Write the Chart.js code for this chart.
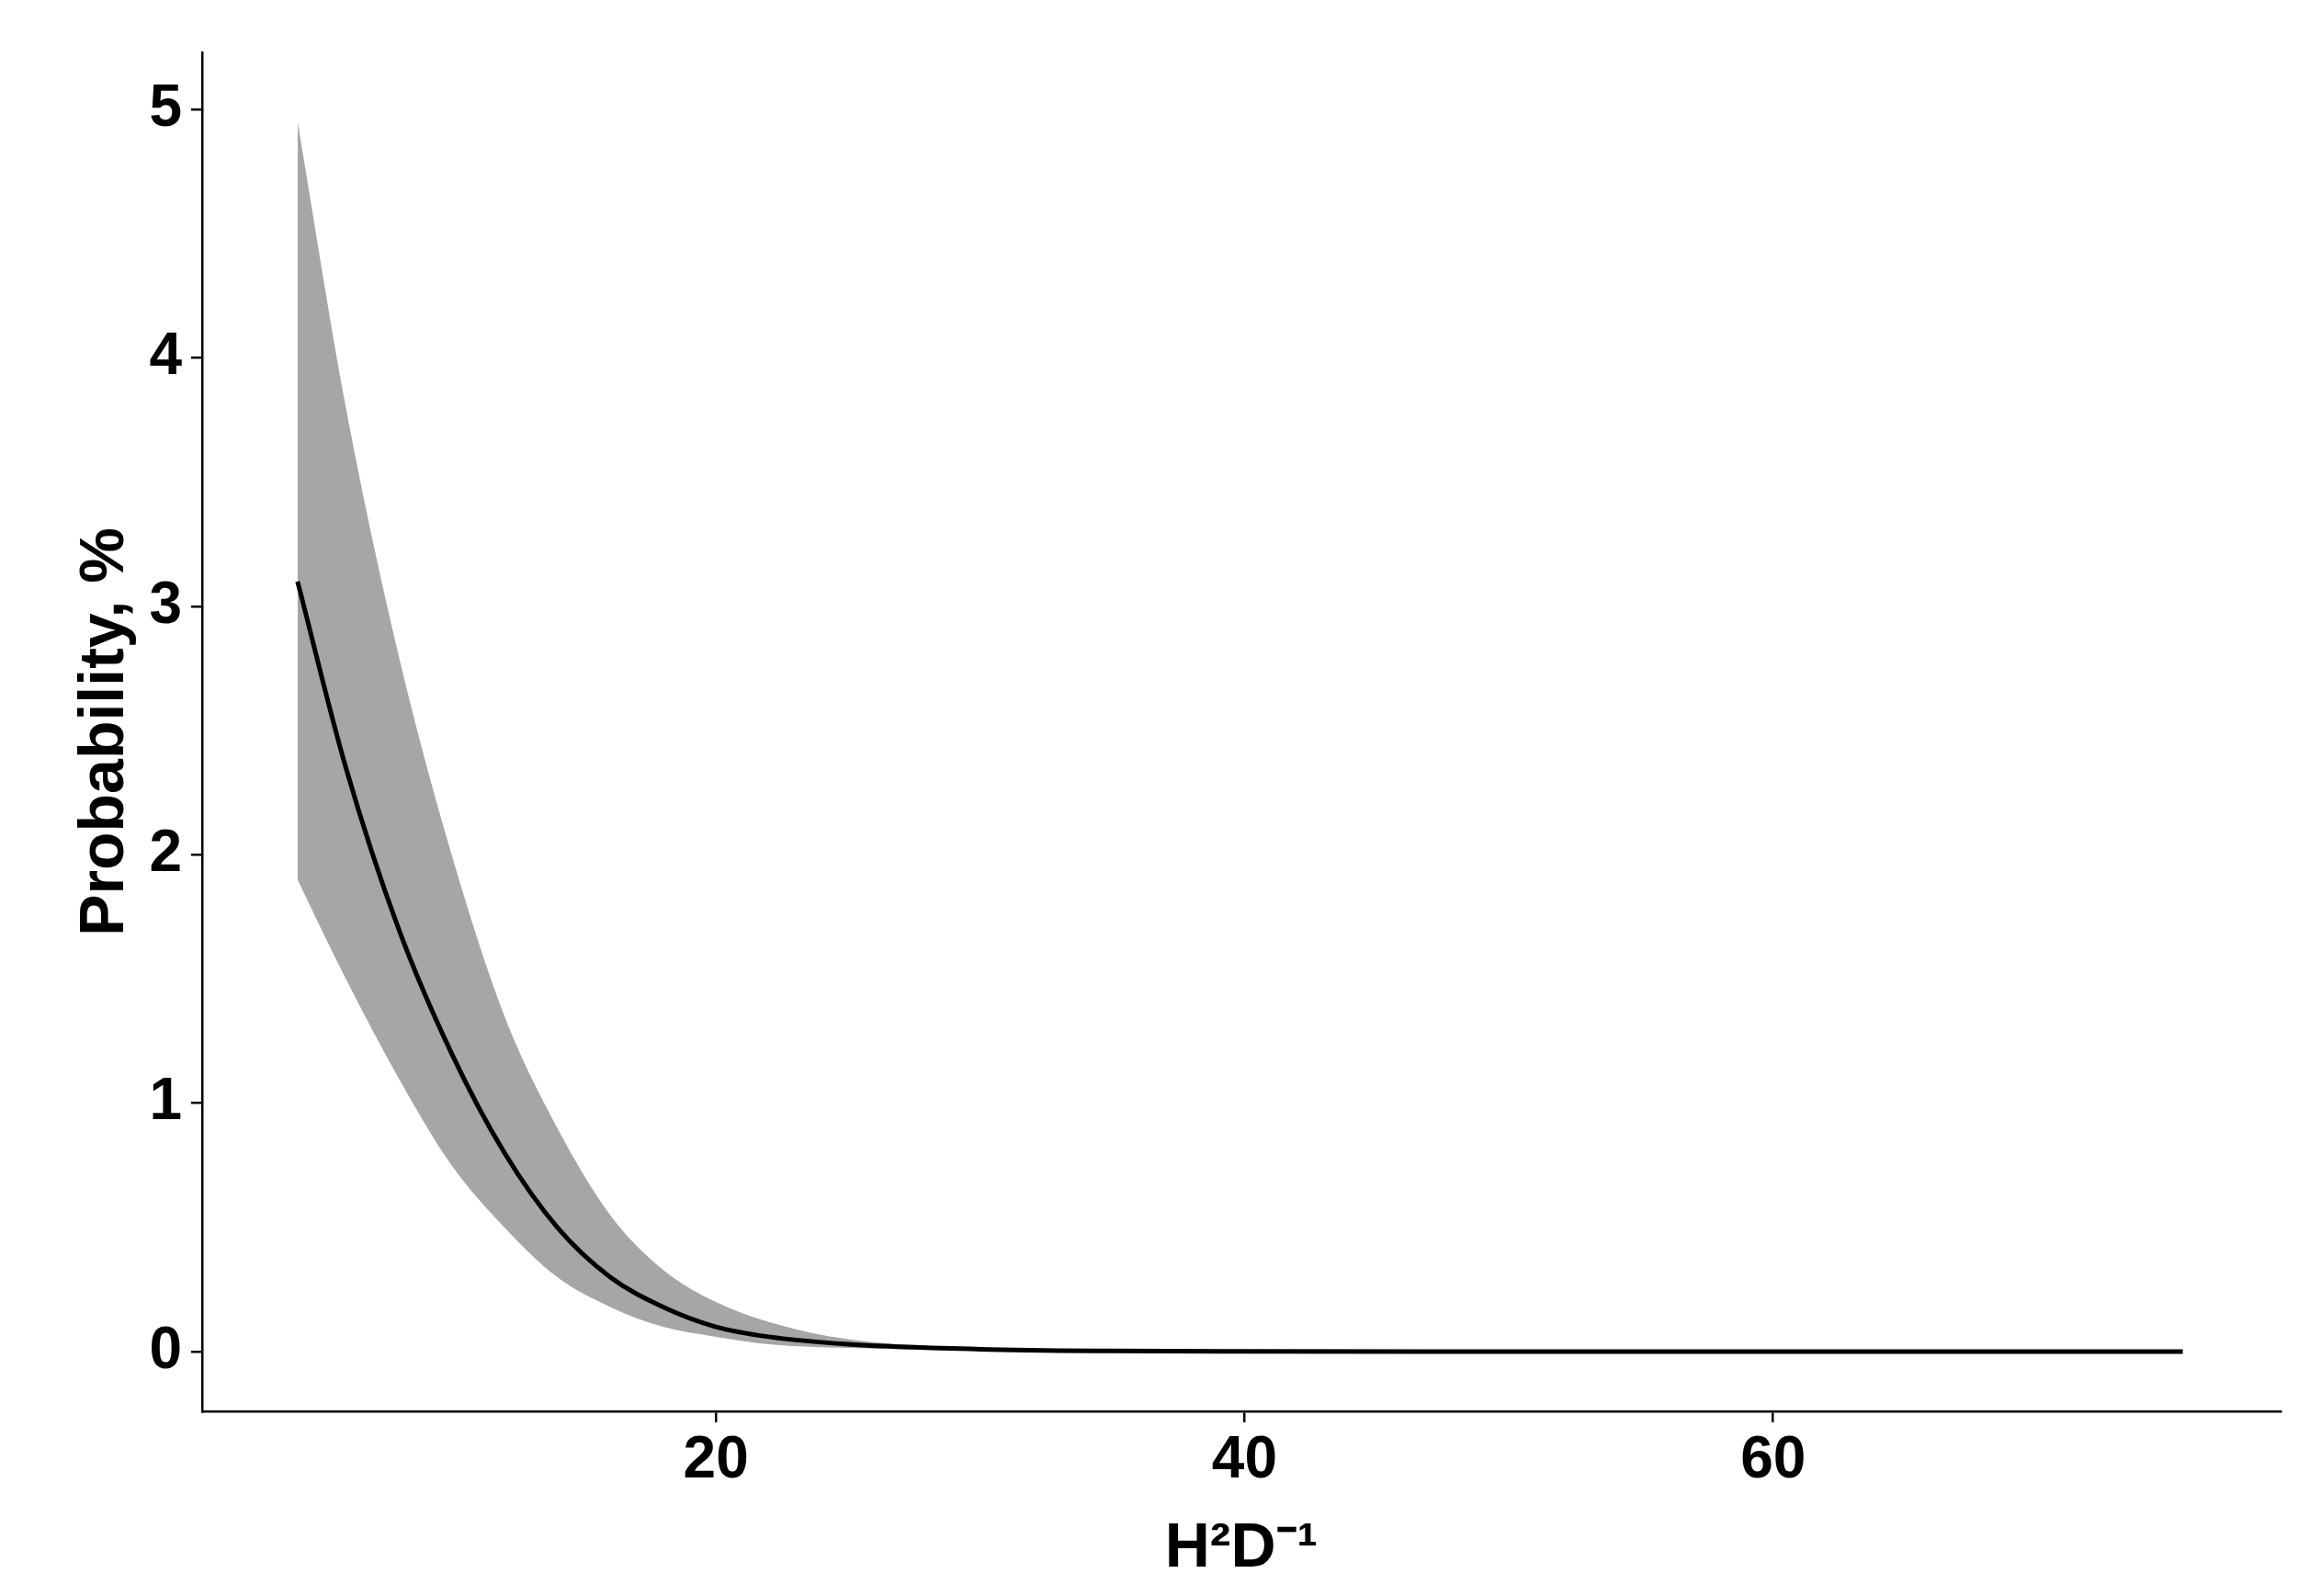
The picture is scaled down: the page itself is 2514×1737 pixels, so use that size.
<!DOCTYPE html>
<html><head><meta charset="utf-8">
<script src="https://cdn.jsdelivr.net/npm/chart.js@4"></script>
<style>html,body{margin:0;padding:0;background:#fff}#c{display:block}</style>
</head><body>
<div style="width:2514px;height:1737px"><canvas id="c"></canvas></div>
<script>
const xs    = [4.17, 6, 8, 10, 12, 14, 16, 18, 20, 22, 25, 30, 35, 40, 50, 60, 75.5];
const mean  = [3.1, 2.35, 1.7, 1.2, 0.8, 0.5, 0.3, 0.18, 0.1, 0.06, 0.03, 0.01, 0.003, 0.001, 0, 0, 0];
const upper = [4.95, 3.8, 2.8, 2.0, 1.35, 0.9, 0.55, 0.33, 0.2, 0.12, 0.05, 0.015, 0.005, 0.002, 0, 0, 0];
const lower = [1.9, 1.5, 1.1, 0.75, 0.5, 0.3, 0.18, 0.1, 0.06, 0.03, 0.015, 0.005, 0.001, 0, 0, 0, 0];
const xTicks = [20, 40, 60];
const yTicks = [0, 1, 2, 3, 4, 5];
const pts = a => xs.map((x, i) => ({x, y: a[i]}));
const font = {family: '"Liberation Sans", Arial, sans-serif', weight: 'bold', size: 64};
new Chart(document.getElementById('c'), {
  type: 'line',
  data: {datasets: [
    {data: pts(upper), order: 2, borderWidth: 0, pointRadius: 0, backgroundColor: '#a6a6a6', fill: '+1', cubicInterpolationMode: 'monotone'},
    {data: pts(lower), order: 1, borderWidth: 0, pointRadius: 0, fill: false, cubicInterpolationMode: 'monotone'},
    {data: pts(mean), order: 0, borderColor: '#000', borderWidth: 5, pointRadius: 0, fill: false, cubicInterpolationMode: 'monotone'}
  ]},
  options: {
    responsive: true, maintainAspectRatio: false, animation: false,
    layout: {padding: {top: 57, right: 32, left: 70, bottom: 10}},
    plugins: {legend: {display: false}, tooltip: {enabled: false}},
    scales: {
      x: {type: 'linear', min: 0.56, max: 79.2,
        afterBuildTicks: s => { s.ticks = xTicks.map(v => ({value: v})); },
        afterFit: s => { s.height = 191; },
        border: {color: '#000', width: 2.5},
        grid: {drawOnChartArea: false, color: '#000', lineWidth: 2.5, tickLength: 12},
        ticks: {color: '#000', font, padding: 4},
        title: {display: true, text: 'H²D⁻¹', color: '#000', font: {...font, size: 68}, padding: {top: 0, bottom: 0}}
      },
      y: {type: 'linear', min: -0.24, max: 5.23,
        afterBuildTicks: s => { s.ticks = yTicks.map(v => ({value: v})); },
        afterFit: s => { s.width = 150; },
        border: {color: '#000', width: 2.5},
        grid: {drawOnChartArea: false, color: '#000', lineWidth: 2.5, tickLength: 12},
        ticks: {color: '#000', font, padding: 10},
        title: {display: true, text: 'Probability, %', color: '#000', font: {...font, size: 68}, padding: {bottom: 0}}
      }
    }
  }
});
</script>
</body></html>
